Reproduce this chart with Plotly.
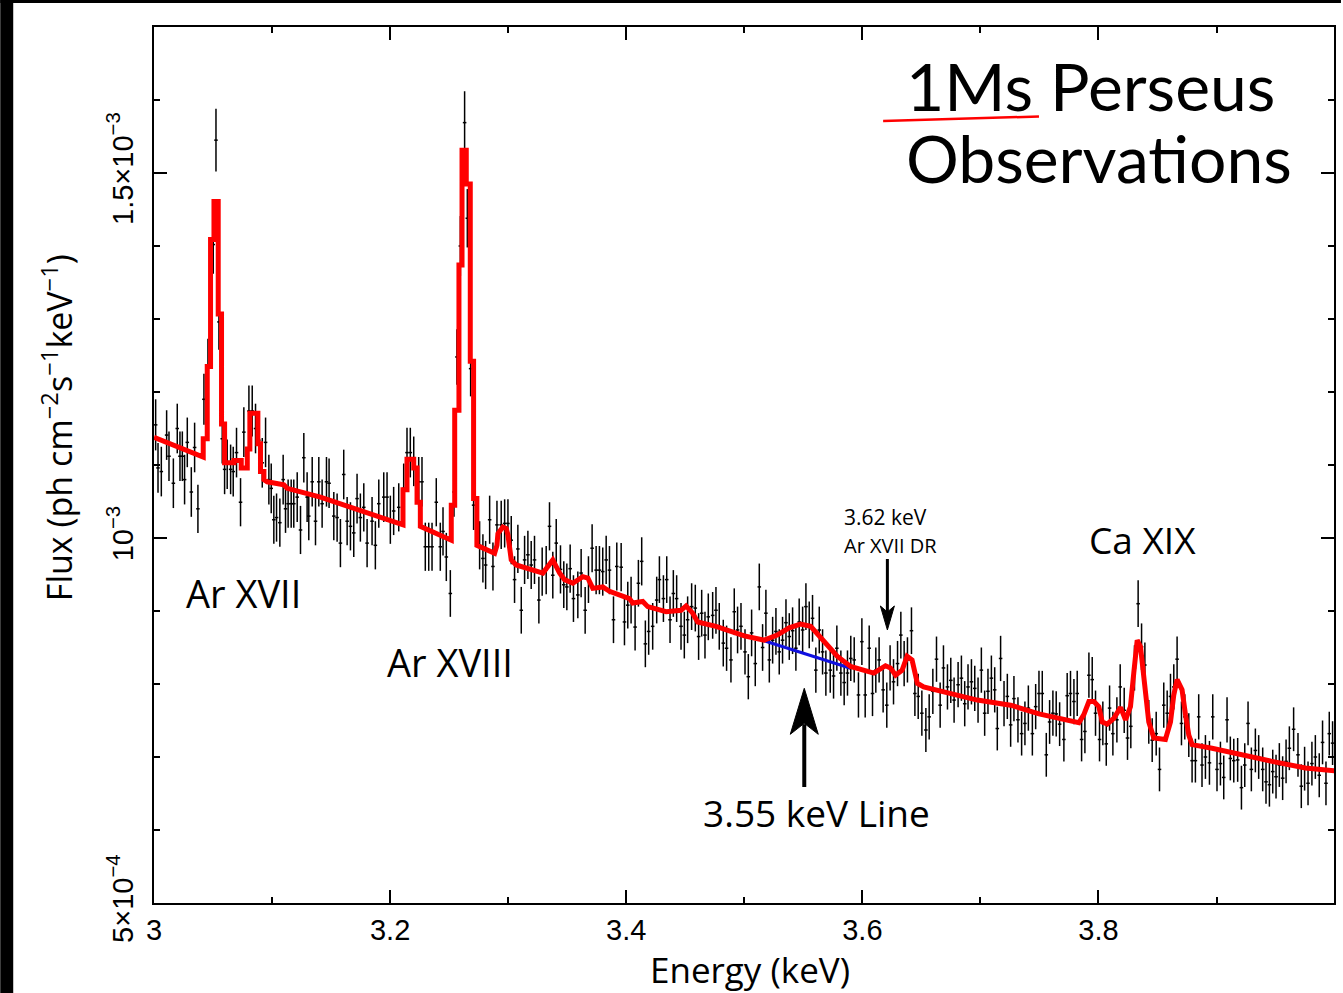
import plotly.graph_objects as go

# ---------------- data (flux in units of 1e-3 ph cm^-2 s^-1 keV^-1) ----------------
energy_a = [3.0014, 3.0034, 3.0062, 3.0107, 3.0127, 3.0164, 3.0197, 3.0220, 3.0240, 3.0259,
            3.0282, 3.0316, 3.0344, 3.0372, 3.0423, 3.0457, 3.0502, 3.0525, 3.0550, 3.0578,
            3.0598, 3.0620, 3.0649, 3.0671, 3.0699, 3.0733, 3.0761, 3.0804, 3.0832, 3.0860,
            3.0888, 3.0917, 3.0945, 3.0973, 3.0993, 3.1015, 3.1038, 3.1066, 3.1094, 3.1114,
            3.1136, 3.1162, 3.1184, 3.1213, 3.1241, 3.1269, 3.1297, 3.1311, 3.1340, 3.1368,
            3.1396, 3.1424, 3.1461, 3.1483, 3.1523, 3.1551, 3.1579, 3.1607, 3.1636, 3.1664,
            3.1692, 3.1720, 3.1748, 3.1777, 3.1805, 3.1847, 3.1875, 3.1904, 3.1946, 3.1974,
            3.2002, 3.2030, 3.2073, 3.2115, 3.2143, 3.2171, 3.2200, 3.2242, 3.2270, 3.2298,
            3.2327, 3.2355, 3.2391, 3.2425, 3.2448, 3.2476, 3.2510]
flux_a = [1.155, 1.096, 1.091, 1.141, 1.112, 1.075, 1.150, 1.112, 1.112, 1.080,
          1.131, 1.063, 1.124, 1.040, 1.190, 1.237, 1.402, 1.545, 1.296, 1.136,
          1.094, 1.101, 1.094, 1.091, 1.117, 1.049, 1.145, 1.174, 1.174, 1.150,
          1.134, 1.103, 1.131, 1.080, 1.068, 1.025, 1.028, 1.021, 1.080, 1.040,
          1.047, 1.047, 1.047, 1.056, 1.011, 1.110, 1.056, 1.030, 1.077, 1.023,
          1.077, 1.047, 1.077, 1.075, 1.030, 1.028, 0.993, 1.087, 1.023, 1.016,
          1.007, 1.054, 1.028, 1.042, 0.993, 1.023, 0.990, 1.047, 1.056, 1.056,
          1.025, 1.037, 1.042, 1.068, 1.117, 1.117, 1.105, 1.077, 1.077, 0.988,
          0.988, 0.988, 1.049, 0.988, 1.009, 0.974, 0.924]
err_a = [.035, .034, .034, .034, .034, .034, .034, .034, .034, .034,
         .034, .034, .034, .033, .035, .036, .040, .043, .038, .034,
         .034, .034, .034, .034, .034, .033, .034, .035, .035, .034,
         .034, .034, .034, .034, .034, .033, .033, .033, .034, .033,
         .033, .033, .033, .034, .033, .034, .034, .033, .034, .033,
         .034, .033, .034, .034, .033, .033, .033, .034, .033, .033,
         .033, .034, .033, .033, .033, .033, .033, .033, .034, .034,
         .033, .033, .033, .034, .034, .034, .034, .034, .034, .033,
         .033, .033, .033, .033, .033, .033, .032]

energy_b = [3.2541, 3.2566, 3.2595, 3.2631, 3.2654, 3.2682, 3.2707]
flux_b = [1.063, 1.248, 1.400, 1.569, 1.438, 1.232, 1.045]
err_b = [.034, .038, .041, .043, .040, .038, .034]

energy_c = [3.2758, 3.2786, 3.2809, 3.2843, 3.2871, 3.2905, 3.2941, 3.2970, 3.2998, 3.3026,
            3.3054, 3.3082, 3.3111, 3.3139, 3.3167, 3.3195, 3.3223, 3.3260, 3.3288, 3.3322,
            3.3350, 3.3378, 3.3407, 3.3443, 3.3471, 3.3497, 3.3525, 3.3553, 3.3590, 3.3618,
            3.3652, 3.3680, 3.3711, 3.3745, 3.3773, 3.3801, 3.3830, 3.3858, 3.3892, 3.3920,
            3.3957, 3.3985, 3.4013, 3.4041, 3.4075, 3.4103, 3.4131, 3.4162, 3.4190, 3.4224,
            3.4258, 3.4281, 3.4315, 3.4343, 3.4371, 3.4399, 3.4427, 3.4464, 3.4492, 3.4520,
            3.4554, 3.4585, 3.4613, 3.4639, 3.4667, 3.4695, 3.4732, 3.4760, 3.4788, 3.4822,
            3.4850, 3.4887, 3.4915, 3.4943, 3.4972, 3.5006, 3.5034]
flux_c = [0.990, 0.972, 0.963, 1.025, 0.961, 1.018, 1.018, 1.020, 1.020, 0.997,
          0.943, 0.985, 0.901, 0.970, 0.977, 0.963, 0.970, 0.915, 0.954, 0.956,
          1.016, 0.949, 0.993, 0.957, 0.936, 0.933, 0.958, 0.917, 0.922, 0.952,
          0.901, 0.943, 0.986, 0.956, 0.956, 0.954, 0.970, 0.956, 0.888, 0.961,
          0.960, 0.885, 0.908, 0.915, 0.878, 0.938, 0.968, 0.855, 0.872, 0.879,
          0.915, 0.943, 0.917, 0.943, 0.888, 0.924, 0.917, 0.879, 0.867, 0.888,
          0.906, 0.904, 0.865, 0.897, 0.867, 0.892, 0.894, 0.901, 0.879, 0.856,
          0.849, 0.833, 0.899, 0.874, 0.879, 0.844, 0.810]
err_c = [.033, .033, .033, .033, .033, .033, .033, .033, .033, .033,
         .032, .033, .032, .033, .033, .033, .033, .032, .033, .033,
         .033, .032, .033, .033, .032, .032, .033, .032, .032, .033,
         .032, .032, .033, .033, .033, .033, .033, .033, .032, .033,
         .033, .032, .032, .032, .032, .032, .033, .032, .032, .032,
         .032, .032, .032, .032, .032, .032, .032, .032, .032, .032,
         .032, .032, .032, .032, .032, .032, .032, .032, .032, .032,
         .031, .031, .032, .032, .032, .031, .031]

energy_d = [3.5062, 3.5093, 3.5127, 3.5155, 3.5183, 3.5212, 3.5240, 3.5268, 3.5296, 3.5324,
            3.5353, 3.5381, 3.5409, 3.5437, 3.5465, 3.5494, 3.5522, 3.5550, 3.5578, 3.5606,
            3.5635, 3.5663, 3.5691, 3.5728, 3.5756, 3.5784, 3.5818, 3.5846, 3.5874, 3.5902,
            3.5931, 3.5967, 3.5996, 3.6024, 3.6058, 3.6086, 3.6114, 3.6142, 3.6176, 3.6207,
            3.6235, 3.6264, 3.6298, 3.6326, 3.6354, 3.6382, 3.6416, 3.6445, 3.6473, 3.6504,
            3.6538, 3.6566, 3.6597, 3.6628, 3.6659, 3.6687, 3.6721, 3.6749, 3.6777, 3.6811,
            3.6839, 3.6867, 3.6895, 3.6924, 3.6952, 3.6980, 3.7008, 3.7036, 3.7064, 3.7093,
            3.7121, 3.7143, 3.7171, 3.7200, 3.7228, 3.7256, 3.7284, 3.7318, 3.7349, 3.7377,
            3.7406, 3.7440, 3.7468, 3.7496, 3.7524]
flux_d = [0.870, 0.828, 0.933, 0.850, 0.897, 0.833, 0.860, 0.872, 0.844, 0.860,
          0.884, 0.865, 0.873, 0.849, 0.885, 0.874, 0.906, 0.881, 0.890, 0.819,
          0.874, 0.844, 0.815, 0.819, 0.811, 0.849, 0.815, 0.802, 0.815, 0.835,
          0.833, 0.785, 0.858, 0.785, 0.849, 0.787, 0.819, 0.833, 0.792, 0.771,
          0.822, 0.803, 0.828, 0.867, 0.828, 0.833, 0.873, 0.787, 0.783, 0.760,
          0.737, 0.755, 0.790, 0.834, 0.771, 0.822, 0.796, 0.805, 0.778, 0.799,
          0.808, 0.773, 0.796, 0.803, 0.794, 0.778, 0.819, 0.760, 0.790, 0.808,
          0.792, 0.739, 0.835, 0.773, 0.783, 0.744, 0.780, 0.751, 0.732, 0.746,
          0.767, 0.732, 0.769, 0.787, 0.787]
err_d = [.032, .031, .032, .032, .032, .031, .032, .032, .031, .032,
         .032, .032, .032, .031, .032, .032, .032, .032, .032, .031,
         .032, .031, .031, .031, .031, .031, .031, .031, .031, .031,
         .031, .031, .032, .031, .031, .031, .031, .031, .031, .031,
         .031, .031, .031, .032, .031, .031, .032, .031, .031, .031,
         .030, .031, .031, .031, .031, .031, .031, .031, .031, .031,
         .031, .031, .031, .031, .031, .031, .031, .031, .031, .031,
         .031, .030, .031, .031, .031, .030, .031, .031, .030, .030,
         .031, .030, .031, .031, .031]

energy_e = [3.7558, 3.7586, 3.7614, 3.7642, 3.7671, 3.7707, 3.7735, 3.7763, 3.7792, 3.7820,
            3.7857, 3.7885, 3.7919, 3.7947, 3.7975, 3.8009, 3.8037, 3.8066, 3.8094, 3.8122,
            3.8156, 3.8184, 3.8218, 3.8246, 3.8274, 3.8305, 3.8336, 3.8365, 3.8393, 3.8426,
            3.8455, 3.8489, 3.8517, 3.8553, 3.8582, 3.8610, 3.8638, 3.8666, 3.8703, 3.8731,
            3.8765, 3.8793, 3.8821, 3.8849, 3.8877, 3.8906, 3.8940, 3.8968, 3.9004, 3.9033,
            3.9061, 3.9089, 3.9117, 3.9146, 3.9179, 3.9211, 3.9239, 3.9267, 3.9295, 3.9329,
            3.9357, 3.9391, 3.9419, 3.9448, 3.9476, 3.9504, 3.9532, 3.9560, 3.9589, 3.9617,
            3.9653, 3.9690, 3.9718, 3.9746, 3.9775, 3.9808, 3.9837, 3.9870, 3.9898, 3.9927,
            3.9955, 3.9983]
flux_e = [0.703, 0.748, 0.760, 0.759, 0.745, 0.724, 0.784, 0.787, 0.776, 0.787,
          0.724, 0.735, 0.812, 0.806, 0.760, 0.724, 0.746, 0.718, 0.767, 0.732,
          0.751, 0.796, 0.764, 0.726, 0.742, 0.822, 0.910, 0.851, 0.826, 0.748,
          0.723, 0.732, 0.683, 0.771, 0.760, 0.783, 0.796, 0.834, 0.746, 0.755,
          0.730, 0.695, 0.695, 0.755, 0.689, 0.700, 0.692, 0.755, 0.683, 0.691,
          0.672, 0.751, 0.698, 0.695, 0.696, 0.658, 0.689, 0.746, 0.683, 0.709,
          0.700, 0.683, 0.666, 0.662, 0.680, 0.673, 0.689, 0.671, 0.694, 0.712,
          0.738, 0.703, 0.660, 0.684, 0.664, 0.691, 0.700, 0.675, 0.720, 0.664,
          0.732, 0.719]
err_e = [.030, .030, .031, .031, .030, .030, .031, .031, .031, .031,
         .030, .030, .031, .031, .031, .030, .030, .030, .031, .030,
         .031, .031, .031, .030, .030, .031, .032, .032, .031, .030,
         .030, .030, .030, .031, .031, .031, .031, .031, .030, .031,
         .030, .030, .030, .031, .030, .030, .030, .031, .030, .030,
         .030, .031, .030, .030, .030, .030, .030, .030, .030, .030,
         .030, .030, .030, .030, .030, .030, .030, .030, .030, .030,
         .030, .030, .030, .030, .030, .030, .030, .030, .030, .030,
         .030, .030]

# best-fit model (folded, binned) vertices
model_energy = [3.0000, 3.0395, 3.0417, 3.0417, 3.0451, 3.0451, 3.0479, 3.0479, 3.0508, 3.0508,
                3.0544, 3.0544, 3.0572, 3.0572, 3.0598, 3.0598, 3.0677, 3.0677, 3.0739, 3.0739,
                3.0790, 3.0790, 3.0812, 3.0812, 3.0880, 3.0880, 3.0902, 3.0902, 3.0931, 3.0931,
                3.0959, 3.1100, 3.1128, 3.1410, 3.2087, 3.2109, 3.2109, 3.2143, 3.2143, 3.2200,
                3.2200, 3.2228, 3.2228, 3.2256, 3.2256, 3.2482, 3.2518, 3.2518, 3.2547, 3.2547,
                3.2583, 3.2583, 3.2609, 3.2609, 3.2645, 3.2645, 3.2679, 3.2679, 3.2707, 3.2707,
                3.2735, 3.2735, 3.2885, 3.2905, 3.2913, 3.2955, 3.2984, 3.2998, 3.3012, 3.3026,
                3.3068, 3.3294, 3.3378, 3.3435, 3.3477, 3.3548, 3.3632, 3.3675, 3.3717, 3.3801,
                3.3858, 3.3942, 3.4027, 3.4055, 3.4140, 3.4182, 3.4338, 3.4464, 3.4507, 3.4563,
                3.4605, 3.4760, 3.5000, 3.5169, 3.5279, 3.5380, 3.5477, 3.5562, 3.5674, 3.5787,
                3.5900, 3.6097, 3.6196, 3.6238, 3.6281, 3.6337, 3.6379, 3.6421, 3.6466, 3.6519,
                3.6974, 3.7256, 3.7496, 3.7834, 3.7876, 3.7919, 3.7961, 3.8003, 3.8032, 3.8074,
                3.8130, 3.8187, 3.8229, 3.8271, 3.8299, 3.8328, 3.8356, 3.8393, 3.8426, 3.8469,
                3.8567, 3.8610, 3.8638, 3.8666, 3.8708, 3.8737, 3.8765, 3.8793, 3.8962, 3.9470,
                3.9752, 4.0000]
model_flux = [1.138, 1.111, 1.111, 1.136, 1.136, 1.235, 1.235, 1.409, 1.409, 1.461,
              1.461, 1.307, 1.307, 1.156, 1.156, 1.103, 1.103, 1.106, 1.106, 1.096,
              1.096, 1.122, 1.122, 1.171, 1.171, 1.129, 1.129, 1.091, 1.091, 1.080,
              1.077, 1.073, 1.068, 1.056, 1.018, 1.018, 1.066, 1.066, 1.108, 1.108,
              1.096, 1.096, 1.049, 1.049, 1.016, 1.000, 0.997, 1.045, 1.045, 1.175,
              1.175, 1.374, 1.374, 1.531, 1.531, 1.485, 1.485, 1.242, 1.242, 1.054,
              1.054, 0.990, 0.979, 0.990, 1.006, 1.015, 1.013, 1.004, 0.983, 0.970,
              0.963, 0.952, 0.970, 0.952, 0.943, 0.938, 0.947, 0.945, 0.931, 0.933,
              0.927, 0.922, 0.917, 0.911, 0.913, 0.906, 0.899, 0.901, 0.907, 0.897,
              0.885, 0.879, 0.866, 0.860, 0.867, 0.877, 0.882, 0.879, 0.858, 0.838,
              0.824, 0.815, 0.825, 0.822, 0.812, 0.819, 0.838, 0.833, 0.801, 0.796,
              0.778, 0.771, 0.759, 0.747, 0.758, 0.776, 0.776, 0.769, 0.748, 0.745,
              0.753, 0.768, 0.751, 0.769, 0.815, 0.860, 0.851, 0.799, 0.748, 0.726,
              0.724, 0.748, 0.785, 0.806, 0.792, 0.758, 0.730, 0.717, 0.712, 0.694,
              0.685, 0.681]

# model without the 3.55 keV line
continuum_energy = [3.5155, 3.5900]
continuum_flux = [0.860, 0.8215]

for e_, f_, s_ in [(energy_a, flux_a, err_a), (energy_b, flux_b, err_b), (energy_c, flux_c, err_c),
                   (energy_d, flux_d, err_d), (energy_e, flux_e, err_e)]:
    assert len(e_) == len(f_) == len(s_), (len(e_), len(f_), len(s_))
assert len(model_energy) == len(model_flux), (len(model_energy), len(model_flux))

energy = energy_a + energy_b + energy_c + energy_d + energy_e
flux = flux_a + flux_b + flux_c + flux_d + flux_e
flux_err = err_a + err_b + err_c + err_d + err_e

# ---------------- figure ----------------
fig = go.Figure()

fig.add_trace(go.Scatter(
    x=energy, y=flux, mode="markers",
    marker=dict(size=1, color="black"),
    error_y=dict(type="data", array=flux_err, visible=True, color="black", thickness=1.5, width=0),
    error_x=dict(type="constant", value=0.0015, visible=True, color="black", thickness=1.5, width=0),
    hoverinfo="skip",
))
fig.add_trace(go.Scatter(
    x=continuum_energy, y=continuum_flux, mode="lines",
    line=dict(color="#1010e0", width=3), hoverinfo="skip",
))
fig.add_trace(go.Scatter(
    x=model_energy, y=model_flux, mode="lines",
    line=dict(color="#ff0000", width=5), hoverinfo="skip",
))

axis_common = dict(
    showline=True, linecolor="black", linewidth=1.6, mirror="ticks",
    ticks="inside", ticklen=13, tickwidth=1.5, tickcolor="black",
    showgrid=False, zeroline=False,
    tickfont=dict(family="Liberation Sans, Arial, sans-serif", size=29, color="black"),
)

fig.update_xaxes(
    range=[3.0, 3.9995],
    tickvals=[3.0, 3.2, 3.4, 3.6, 3.8], ticktext=["3", "3.2", "3.4", "3.6", "3.8"],
    minor=dict(tickvals=[3.1, 3.3, 3.5, 3.7, 3.9], ticks="inside", ticklen=6,
               tickwidth=1.5, tickcolor="black", showgrid=False),
    **axis_common,
)
fig.update_yaxes(
    range=[0.5, 1.7],
    tickvals=[0.5, 1.0, 1.5],
    ticktext=["5×10<sup>−4</sup>", "10<sup>−3</sup>", "1.5×10<sup>−3</sup>"],
    tickangle=-90,
    ticklabelstandoff=8,
    minor=dict(tickvals=[0.6, 0.7, 0.8, 0.9, 1.1, 1.2, 1.3, 1.4, 1.6], ticks="inside", ticklen=6,
               tickwidth=1.5, tickcolor="black", showgrid=False),
    **axis_common,
)

label_font = dict(family="Open Sans, Noto Sans, sans-serif", color="black")
title_font = dict(family="Lato, Inter, sans-serif", color="black", size=66)

annotations = [
    dict(x=3.0761, y=0.9247, text="Ar XVII", font=dict(size=38, **label_font)),
    dict(x=3.2504, y=0.8301, text="Ar XVIII", font=dict(size=38, **label_font)),
    dict(x=3.5609, y=0.6233, text="3.55 keV Line", font=dict(size=37, **label_font)),
    dict(x=3.8376, y=0.9973, text="Ca XIX", font=dict(size=37, **label_font)),
    dict(x=3.5829, y=1.0288, text="3.62 keV", xanchor="left", font=dict(size=21, **label_font)),
    dict(x=3.5829, y=0.9904, text="Ar XVII DR", xanchor="left", font=dict(size=20, **label_font)),
    dict(x=3.6354, y=1.6205, text="1Ms Perseus", xanchor="left", font=title_font),
    dict(x=3.6354, y=1.5212, text="Observations", xanchor="left", font=title_font),
]
for a in annotations:
    a.setdefault("xanchor", "center")
    fig.add_annotation(xref="x", yref="y", showarrow=False, yanchor="middle", **a)

# axis titles
fig.add_annotation(xref="paper", yref="paper", x=0.505, y=-0.0755, showarrow=False,
                   text="Energy (keV)", font=dict(size=35, **label_font),
                   xanchor="center", yanchor="middle")
fig.add_annotation(xref="paper", yref="paper", x=-0.0821, y=0.5422, showarrow=False,
                   text="Flux (ph cm<sup>−2</sup>s<sup>−1</sup>keV<sup>−1</sup>)", textangle=-90,
                   font=dict(size=34, **label_font), xanchor="center", yanchor="middle")

shapes = [
    # black frame strips of the original picture
    dict(type="rect", xref="paper", yref="paper", x0=-0.1303, x1=-0.1193, y0=-0.1027, y1=1.0308,
         fillcolor="black", line=dict(width=0), layer="above"),
    dict(type="rect", xref="paper", yref="paper", x0=-0.1303, x1=1.0059, y0=1.0274, y1=1.0308,
         fillcolor="black", line=dict(width=0), layer="above"),
    # red underline of the title
    dict(type="line", xref="x", yref="y", x0=3.6176, y0=1.5712, x1=3.7496, y1=1.5774,
         line=dict(color="#ff0000", width=2.5), layer="above"),
    # up arrow (3.55 keV line): shaft + head
    dict(type="line", xref="x", yref="y", x0=3.5508, x1=3.5508, y0=0.6589, y1=0.745,
         line=dict(color="black", width=4), layer="above"),
    dict(type="path", xref="x", yref="y", xsizemode="pixel", ysizemode="pixel",
         xanchor=3.5508, yanchor=0.7941, path="M0,0 L-14,-46 L0,-35 L14,-46 Z",
         fillcolor="black", line=dict(color="black", width=1), layer="above"),
    # down arrow (3.62 keV Ar XVII DR): shaft + head
    dict(type="line", xref="x", yref="y", x0=3.6212, x1=3.6212, y0=0.9712, y1=0.895,
         line=dict(color="black", width=3), layer="above"),
    dict(type="path", xref="x", yref="y", xsizemode="pixel", ysizemode="pixel",
         xanchor=3.6212, yanchor=0.874, path="M0,0 L-7,24 L0,18 L7,24 Z",
         fillcolor="black", line=dict(color="black", width=1), layer="above"),
]
for s in shapes:
    fig.add_shape(**s)

fig.update_layout(
    width=1343, height=993,
    margin=dict(l=154, r=7, t=27, b=90),
    paper_bgcolor="white", plot_bgcolor="white",
    showlegend=False,
)

fig.write_html("out.html")
